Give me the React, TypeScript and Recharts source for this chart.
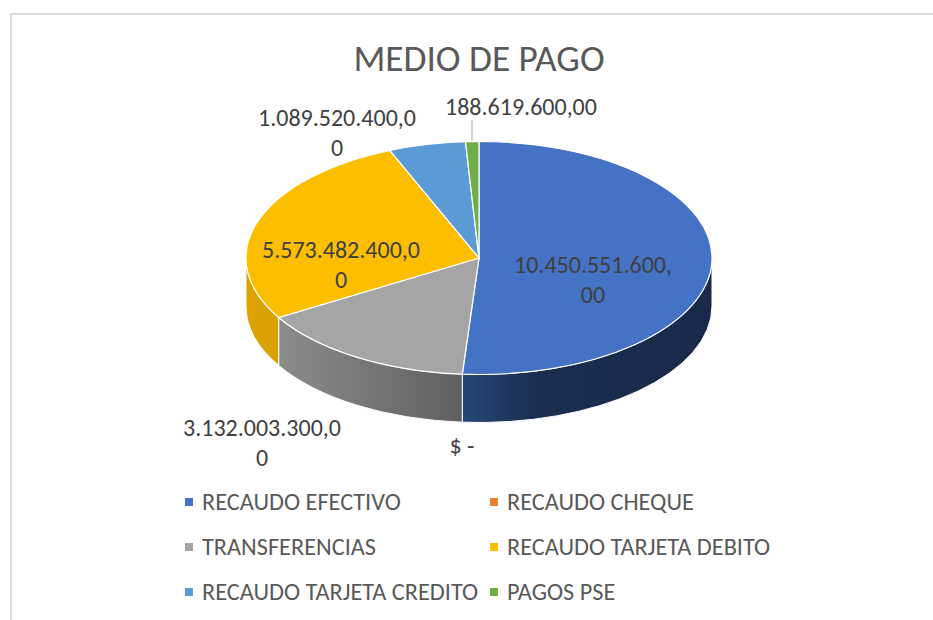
import * as React from "react";
import { PieChart, Pie, Cell, Legend } from "recharts";

const categories = [
  "RECAUDO EFECTIVO",
  "RECAUDO CHEQUE",
  "TRANSFERENCIAS",
  "RECAUDO TARJETA DEBITO",
  "RECAUDO TARJETA CREDITO",
  "PAGOS PSE",
];
const values = [10450551600, 0, 3132003300, 5573482400, 1089520400, 188619600];
const valueLabels = [
  ["10.450.551.600,", "00"],
  ["$ -"],
  ["3.132.003.300,0", "0"],
  ["5.573.482.400,0", "0"],
  ["1.089.520.400,0", "0"],
  ["188.619.600,00"],
];
const colors = ["#4472C4", "#ED7D31", "#A5A5A5", "#FDBE00", "#5B9BD5", "#70AD47"];

const chartData = categories.map((name, i) => ({ name, value: values[i] }));

const WIDTH = 933;
const HEIGHT = 620;
const CX = 471;
const CY = 250;
const RX = 233;
const SQUASH = 0.5;
const DEPTH = 48;
const FONT = "Carlito, Calibri, Lato, 'Open Sans', sans-serif";
const TEXT = "#595959";
const LABEL_TEXT = "#404040";

// label anchors, relative to the pie centre
const labelOffsets = [
  { x: 114, y: 7 },
  { x: -17, y: 188 },
  { x: -217, y: 170 },
  { x: -138, y: -8 },
  { x: -142, y: -140 },
  { x: 42, y: -151 },
];

const point = (cx: number, cy: number, r: number, deg: number) => {
  const rad = (deg * Math.PI) / 180;
  return { x: cx + r * Math.cos(rad), y: cy - r * SQUASH * Math.sin(rad) };
};

function Slice3D(props: any) {
  const { cx, cy, outerRadius: r, startAngle, endAngle, fill, index } = props;
  if (startAngle === endAngle) return <g />;
  const ry = r * SQUASH;
  const a = point(cx, cy, r, startAngle);
  const b = point(cx, cy, r, endAngle);
  const large = Math.abs(startAngle - endAngle) > 180 ? 1 : 0;
  const top = `M${cx},${cy} L${a.x},${a.y} A${r},${ry} 0 ${large} 1 ${b.x},${b.y} Z`;

  // only the part of the arc on the front half (angles 0 to -180) shows a wall
  const from = Math.min(startAngle, 0);
  const to = Math.max(endAngle, -180);
  let wall: React.ReactNode = null;
  if (from > to) {
    const w1 = point(cx, cy, r, from);
    const w2 = point(cx, cy, r, to);
    const d = `M${w1.x},${w1.y} A${r},${ry} 0 0 1 ${w2.x},${w2.y} L${w2.x},${w2.y + DEPTH} A${r},${ry} 0 0 0 ${w1.x},${w1.y + DEPTH} Z`;
    wall = <path d={d} fill={`url(#wall${index})`} stroke="#fff" strokeWidth={1} />;
  }
  return (
    <g>
      {wall}
      <path d={top} fill={fill} stroke="#fff" strokeWidth={1.2} />
    </g>
  );
}

function ValueLabel(props: any) {
  const { cx, cy, index } = props;
  const off = labelOffsets[index];
  return (
    <g>
      {index === 5 && (
        <line x1={cx - 7} y1={cy - 138} x2={cx - 7} y2={cy - 117} stroke="#A6A6A6" strokeWidth={1} />
      )}
      <text textAnchor="middle" fontFamily={FONT} fontSize={24} fill={LABEL_TEXT}>
        {valueLabels[index].map((t, i) => (
          <tspan key={i} x={cx + off.x} y={cy + off.y + 8 + i * 30}>
            {t}
          </tspan>
        ))}
      </text>
    </g>
  );
}

function LegendGrid() {
  return (
    <svg width={WIDTH} height={150} style={{ display: "block" }}>
      {categories.map((name, i) => {
        const x = i % 2 === 0 ? 186 : 491;
        const y = 32 + Math.floor(i / 2) * 45;
        return (
          <g key={name}>
            <rect x={x - 1} y={y - 4} width={8} height={8} fill={colors[i]} />
            <text x={x + 16} y={y + 8} fontFamily={FONT} fontSize={24.3} fill={TEXT}>
              {name}
            </text>
          </g>
        );
      })}
    </svg>
  );
}

export default function App() {
  return (
    <div style={{ position: "absolute", left: 0, top: 0, width: WIDTH, height: HEIGHT, background: "#fff" }}>
      <div style={{ position: "absolute", left: 10, top: 13, right: 0, bottom: 0, borderLeft: "2px solid #D9D9D9", borderTop: "2px solid #D9D9D9" }} />
      <div style={{ position: "absolute", left: 0, top: 36, width: WIDTH, paddingLeft: 25, boxSizing: "border-box", textAlign: "center", fontFamily: FONT, fontSize: 37.3, color: TEXT, lineHeight: "44px" }}>
        MEDIO DE PAGO
      </div>
      <div style={{ position: "absolute", left: 8, top: 8 }}>
        <PieChart width={WIDTH - 8} height={HEIGHT - 8} margin={{ top: 0, right: 0, bottom: 0, left: 0 }}>
          <defs>
            <linearGradient id="wall0" x1="0" y1="0" x2="1" y2="0">
              <stop offset="0" stopColor="#264679" />
              <stop offset="0.3" stopColor="#1B2E51" />
              <stop offset="1" stopColor="#19294A" />
            </linearGradient>
            <linearGradient id="wall2" x1="0" y1="0" x2="1" y2="0">
              <stop offset="0" stopColor="#8C8C8C" />
              <stop offset="1" stopColor="#5F5F5F" />
            </linearGradient>
            <linearGradient id="wall3" x1="0" y1="0" x2="1" y2="0">
              <stop offset="0" stopColor="#DDA300" />
              <stop offset="1" stopColor="#D9A000" />
            </linearGradient>
          </defs>
          <Pie
            data={chartData}
            dataKey="value"
            nameKey="name"
            cx={CX}
            cy={CY}
            innerRadius={0}
            outerRadius={RX}
            startAngle={90}
            endAngle={-270}
            paddingAngle={0}
            stroke="none"
            shape={Slice3D}
            label={ValueLabel}
            labelLine={false}
            isAnimationActive={false}
          >
            {chartData.map((d, i) => (
              <Cell key={d.name} fill={colors[i]} />
            ))}
          </Pie>
          <Legend content={LegendGrid} wrapperStyle={{ left: -8, bottom: 0, width: WIDTH }} />
        </PieChart>
      </div>
    </div>
  );
}
